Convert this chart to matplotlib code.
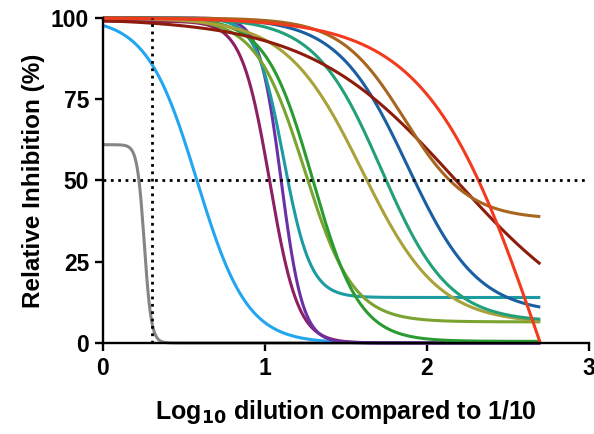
import numpy as np
import matplotlib
matplotlib.use('Agg')
import matplotlib.pyplot as plt

plt.rcParams['font.family'] = ['Liberation Sans', 'DejaVu Sans']
plt.rcParams['font.weight'] = 'bold'

# 4PL fit parameters (top, bottom, log10 IC50, hill slope)
tops = [61, 100, 99, 100, 100, 100, 100, 100, 100, 100, 100, 100, 100]
bottoms = [0, 0, 0, 0, 14, 6.5, 0.5, 6, 6.5, 9, 0, 38, -100]
log_ic50 = [0.255, 0.58, 1.03, 1.10, 1.114, 1.244, 1.295, 1.60, 1.72, 1.88, 2.18, 1.86, 2.70]
hill = [20, 2.8, 5.0, 6.5, 5.2, 2.9, 3.0, 1.85, 2.1, 2.0, 0.95, 2.2, 1.25]
colors = ['#858585', '#22a6f0', '#8d1f63', '#6a31a6', '#1d9ba2', '#7ba32f',
          '#2a9b30', '#a9a23a', '#22a07a', '#1a5fa1', '#8e1c0c', '#a8651f', '#f23b1e']

x_start, x_end = 0.0, 2.7
ic_line_x = 0.3
ic_line_y = 50

x = np.linspace(x_start, x_end, 400)

fig = plt.figure(figsize=(5.94, 4.34), dpi=100)
ax = fig.add_axes([0.1734, 0.2097, 0.818, 0.749])

for t, b, c, h, col in zip(tops, bottoms, log_ic50, hill, colors):
    y = b + (t - b) / (1 + 10 ** ((x - c) * h))
    ax.plot(x, y, color=col, lw=2.2, clip_on=False, solid_capstyle='butt')

ax.axhline(ic_line_y, color='black', ls=':', lw=2, zorder=5)
ax.plot([ic_line_x, ic_line_x], [0, 100], color='black', ls=':', lw=2, zorder=5)

ax.set_xlim(0, 3)
ax.set_ylim(0, 100)
ax.set_xticks([0, 1, 2, 3])
ax.set_yticks([0, 25, 50, 75, 100])
for s in ['top', 'right']:
    ax.spines[s].set_visible(False)
for s in ['left', 'bottom']:
    ax.spines[s].set_linewidth(1.7)
ax.tick_params(width=1.7, length=6, labelsize=16.5, pad=4)
for lab in ax.get_xticklabels() + ax.get_yticklabels():
    lab.set_fontweight('bold')

ax.set_xlabel('Log$_\\mathbf{10}$ dilution compared to 1/10', fontsize=18,
              fontweight='bold', labelpad=13)
ax.set_ylabel('Relative Inhibition (%)', fontsize=17.5, fontweight='bold', labelpad=4)

fig.savefig('out.png', dpi=100)
